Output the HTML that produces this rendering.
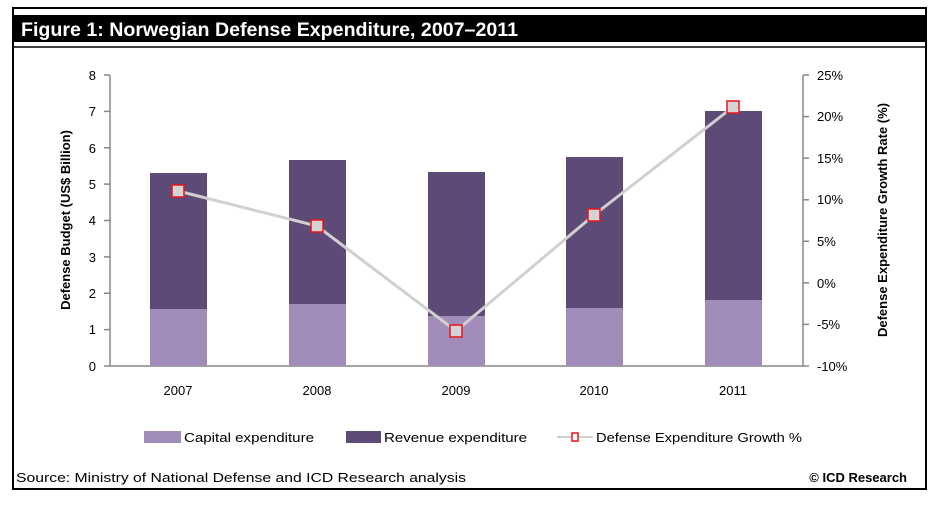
<!DOCTYPE html>
<html><head><style>
body{margin:0;background:#fff;width:941px;height:505px;overflow:hidden;font-family:"Liberation Sans",sans-serif}
</style></head><body>
<svg width="941" height="505" xmlns="http://www.w3.org/2000/svg" font-family="Liberation Sans, sans-serif">
<rect x="13" y="8" width="913" height="481" fill="none" stroke="#000" stroke-width="2"/>
<rect x="13" y="15" width="913" height="27" fill="#000"/>
<line x1="13" y1="47" x2="926" y2="47" stroke="#000" stroke-width="1.5"/>
<text x="21" y="36" fill="#fff" font-size="19" font-weight="bold" textLength="497" lengthAdjust="spacingAndGlyphs">Figure 1: Norwegian Defense Expenditure, 2007–2011</text>
<g stroke="#888" stroke-width="1.5" fill="none">
<path d="M110 75 V366 H803 V75"/>
<path d="M104 75H110M104 111.4H110M104 147.8H110M104 184.1H110M104 220.5H110M104 256.9H110M104 293.3H110M104 329.6H110M104 366H110"/>
<path d="M803 75H809M803 116.6H809M803 158.1H809M803 199.7H809M803 241.3H809M803 282.9H809M803 324.4H809M803 366H809"/>
</g>
<g font-size="13" fill="#000" text-anchor="end">
<text x="96" y="80">8</text><text x="96" y="116">7</text><text x="96" y="153">6</text><text x="96" y="189">5</text><text x="96" y="225">4</text><text x="96" y="262">3</text><text x="96" y="298">2</text><text x="96" y="334">1</text><text x="96" y="371">0</text>
</g>
<g font-size="13" fill="#000">
<text x="817" y="80">25%</text><text x="817" y="121">20%</text><text x="817" y="163">15%</text><text x="817" y="204">10%</text><text x="817" y="246">5%</text><text x="817" y="288">0%</text><text x="817" y="329">-5%</text><text x="817" y="371">-10%</text>
</g>
<text transform="translate(70,220) rotate(-90)" text-anchor="middle" font-size="13" font-weight="bold">Defense Budget (US$ Billion)</text>
<text transform="translate(887,220) rotate(-90)" text-anchor="middle" font-size="13" font-weight="bold">Defense Expenditure Growth Rate (%)</text>
<g>
<rect x="150" y="173" width="57" height="136" fill="#5e4a76"/><rect x="150" y="309" width="57" height="57" fill="#a28dba"/>
<rect x="289" y="160" width="57" height="144" fill="#5e4a76"/><rect x="289" y="304" width="57" height="62" fill="#a28dba"/>
<rect x="428" y="172" width="57" height="144" fill="#5e4a76"/><rect x="428" y="316" width="57" height="50" fill="#a28dba"/>
<rect x="566" y="157" width="57" height="151" fill="#5e4a76"/><rect x="566" y="308" width="57" height="58" fill="#a28dba"/>
<rect x="705" y="111" width="57" height="189" fill="#5e4a76"/><rect x="705" y="300" width="57" height="66" fill="#a28dba"/>
</g>
<polyline points="178,191 317,226 456,331 594,215 733,107" fill="none" stroke="#d0d0d0" stroke-width="3"/>
<g fill="#d4d4d4" stroke="#e8141c" stroke-width="1.5">
<rect x="172" y="185" width="12" height="12"/><rect x="311" y="220" width="12" height="12"/><rect x="450" y="325" width="12" height="12"/><rect x="588" y="209" width="12" height="12"/><rect x="727" y="101" width="12" height="12"/>
</g>
<g font-size="13" text-anchor="middle">
<text x="178" y="395">2007</text><text x="317" y="395">2008</text><text x="456" y="395">2009</text><text x="594" y="395">2010</text><text x="733" y="395">2011</text>
</g>
<rect x="144" y="431" width="37" height="12" fill="#a28dba"/>
<text x="184" y="442" font-size="13" textLength="130" lengthAdjust="spacingAndGlyphs">Capital expenditure</text>
<rect x="346" y="431" width="35" height="12" fill="#5e4a76"/>
<text x="384" y="442" font-size="13" textLength="143" lengthAdjust="spacingAndGlyphs">Revenue expenditure</text>
<line x1="557" y1="437" x2="593" y2="437" stroke="#d0d0d0" stroke-width="2"/>
<rect x="572" y="433" width="6" height="8" fill="#fff" stroke="#e8141c" stroke-width="1.5"/>
<text x="596" y="442" font-size="13" textLength="206" lengthAdjust="spacingAndGlyphs">Defense Expenditure Growth %</text>
<text x="16" y="482" font-size="13" textLength="450" lengthAdjust="spacingAndGlyphs">Source: Ministry of National Defense and ICD Research analysis</text>
<text x="907" y="482" font-size="13" font-weight="bold" text-anchor="end">© ICD Research</text>
</svg>
</body></html>
